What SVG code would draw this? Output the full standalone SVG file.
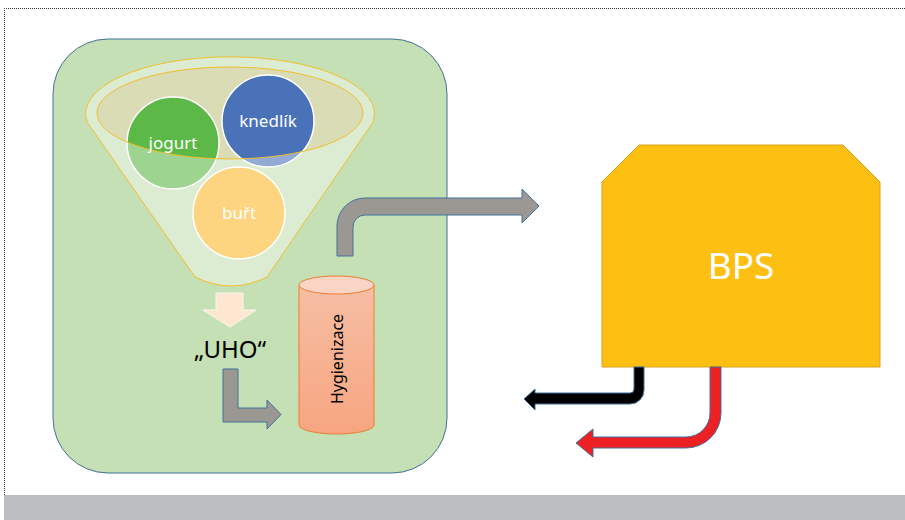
<svg xmlns="http://www.w3.org/2000/svg" width="905" height="520" viewBox="0 0 905 520">
<defs>
<style>
.t{font-family:"Noto Sans","Liberation Sans",sans-serif;}
.w{fill:#fff;font-size:17px;text-anchor:middle;}
.ar{stroke:#41719C;stroke-width:1;stroke-linejoin:miter;}
.pe{stroke:#FFF6EE;stroke-width:1;}
.circ{stroke:#fff;stroke-width:1.5;}
</style>
<linearGradient id="cyl" x1="0" y1="0" x2="0" y2="1">
<stop offset="0" stop-color="#F6BEA4"/>
<stop offset="1" stop-color="#F7A580"/>
</linearGradient>
</defs>
<rect x="0" y="0" width="905" height="520" fill="#fff"/>
<path d="M4.5,495 V8.5 H905" fill="none" stroke="#333" stroke-width="1" stroke-dasharray="1,1"/>
<rect x="4" y="495" width="901" height="25" fill="#BCBDBF"/>

<g id="box">
<rect x="53" y="39" width="394" height="434" rx="55" ry="55" fill="#C5E0B4" stroke="#41719C" stroke-width="1"/>
</g>

<g id="funnel">
<ellipse cx="230" cy="113" rx="133" ry="46" fill="#D9DCB4"/>
<g id="jogurt"><circle class="circ" cx="173" cy="143" r="46" fill="#5CB947"/></g>
<g id="knedlik"><circle class="circ" cx="268" cy="121" r="46" fill="#4A72B8"/></g>
<path d="M87,122 L195,277 Q231,295 267,277 L373,122 A144.5,57 0 1 0 87,122 Z M97,113 A133,46 0 1 0 363,113 A133,46 0 1 0 97,113 Z" fill="#fff" fill-opacity="0.4" fill-rule="evenodd"/>
<g id="burt"><circle class="circ" cx="239" cy="213" r="46" fill="#FDD47F"/></g>
<path d="M87,122 L195,277 Q231,295 267,277 L373,122 A144.5,57 0 1 0 87,122 Z" fill="none" stroke="#F2BE2E" stroke-width="1"/>
<ellipse cx="230" cy="113" rx="133" ry="46" fill="none" stroke="#F2BE2E" stroke-width="1"/>
<text class="t w" x="173" y="149">jogurt</text>
<text class="t w" x="268" y="127">knedlík</text>
<text class="t w" x="239" y="219">buřt</text>
</g>

<g id="uho">
<text class="t" x="230" y="358" font-size="24" text-anchor="middle" fill="#000">„UHO“</text>
</g>

<g id="hygienizace">
<path d="M299,285 L299,425 A37.5,9 0 0 0 374,425 L374,285 Z" fill="url(#cyl)" stroke="#ED7D31" stroke-width="1"/>
<ellipse cx="336.5" cy="285" rx="37.5" ry="9" fill="#FAD5C5" stroke="#ED7D31" stroke-width="1"/>
<text class="t" transform="translate(343,359) rotate(-90)" font-size="16" text-anchor="middle" fill="#000">Hygienizace</text>
</g>

<g id="bps">
<path d="M602,182 L639,145 L843,145 L880,182 L880,367 L602,367 Z" fill="#FCBF12" stroke="#D6A21C" stroke-width="1"/>
<text class="t" x="741" y="279" font-size="37" text-anchor="middle" fill="#fff">BPS</text>
</g>

<g id="connectors">
<path class="pe" d="M216,293 L243,293 L243,310 L256,310 L230,327 L203,310 L216,310 Z" fill="#FDE7D1"/>
<path class="ar" d="M223,369 L238,369 L238,408 L267,408 L267,400 L281,414.5 L267,429 L267,422 L223,422 Z" fill="#9B9893"/>
<path class="ar" d="M337,256 L337,226 A28,28 0 0 1 365,198 L522,198 L522,189 L539,206 L522,223 L522,215 L365,215 A12,12 0 0 0 353,227 L353,256 Z" fill="#9B9893"/>
<path class="ar" d="M634,367 L644,367 L644,390 A14,14 0 0 1 630,404 L535,404 L535,410 L524,399 L535,389 L535,393 L630,393 A4,4 0 0 0 634,389 Z" fill="#000"/>
<path class="ar" d="M710,367 L721,367 L721,413 A35,35 0 0 1 686,448 L593,448 L593,457 L576,443 L593,429 L593,437 L686,437 A24,24 0 0 0 710,413 Z" fill="#ED2024"/>
</g>
</svg>
